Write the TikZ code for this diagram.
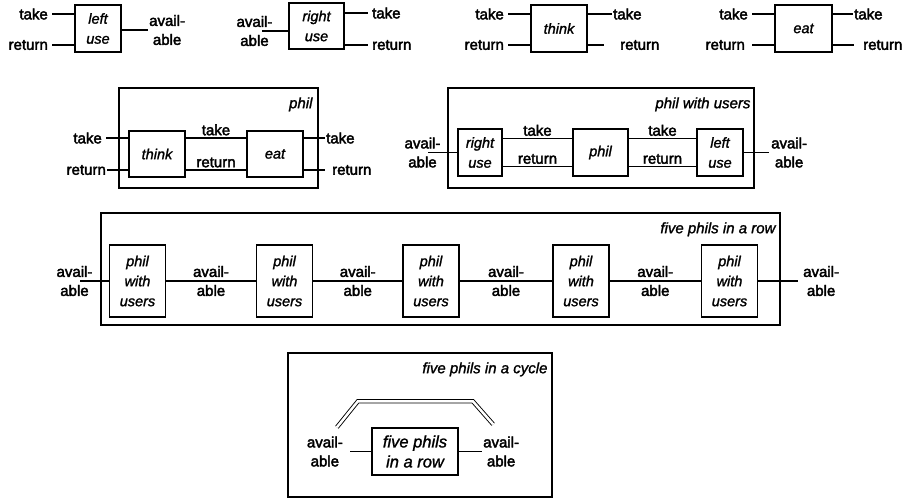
\documentclass[tikz,border=0pt]{standalone}
\usepackage{fontspec}
\setmainfont{Liberation Sans}
\newfontfamily\portfont{Liberation Sans}[FakeBold=2.6]
\newfontfamily\unitfont{Liberation Sans}[FakeBold=1.4]

\begin{document}
\begin{tikzpicture}
        [x=1pt, y=-1pt,
        every node/.style={inner sep=0pt, font=\portfont\fontsize{15}{19}\selectfont},
        port/.style={align=center, inner xsep=4pt},
        unit/.style={draw, line width=1.3pt, align=center, inner sep=0pt,
          font=\unitfont\fontsize{14.5}{20}\selectfont\itshape},
        frame/.style={draw, line width=1.3pt},
        title/.style={anchor=east, font=\unitfont\fontsize{15}{20}\selectfont\itshape},
        wire/.style={line width=1.3pt}]

    \useasboundingbox (0,0) rectangle (904,499);

    % left use
    \node[unit, minimum width=46pt, minimum height=47pt] (lu) at (98,28.5) {left\\use};
    \node[port, anchor=east] (lutake) at (52,14) {take};
    \node[port, anchor=east] (luret) at (52,45) {return};
    \node[port, anchor=west, inner xsep=1pt] (luav) at (148,30) {avail-\\able};
    \draw[wire] (lutake.east) -- (lutake.east -| lu.west);
    \draw[wire] (luret.east) -- (luret.east -| lu.west);
    \draw[wire] (luav.west -| lu.east) -- (luav.west);

    % right use
    \node[unit, minimum width=55pt, minimum height=46pt] (ru) at (316.5,26) {right\\use};
    \node[port] (ruav) at (254.5,31) {avail-\\able};
    \node[port, anchor=west] (rutake) at (368,13) {take};
    \node[port, anchor=west] (ruret) at (368,45) {return};
    \draw[wire] ([xshift=7.5pt]ruav.center) -- (ruav.center -| ru.west);
    \draw[wire] (rutake.west -| ru.east) -- (rutake.west);
    \draw[wire] (ruret.west -| ru.east) -- (ruret.west);

    % think
    \node[unit, minimum width=56pt, minimum height=47pt] (th) at (559,28.5) {think};
    \node[port, anchor=east] (thtake) at (508,14) {take};
    \node[port, anchor=east] (thret) at (508,45) {return};
    \node[port, anchor=west, inner xsep=1pt] (thtake2) at (612,14) {take};
    \node[port, anchor=west, inner xsep=16pt] (thret2) at (604,45) {return};
    \draw[wire] (thtake.east) -- (thtake.east -| th.west);
    \draw[wire] (thret.east) -- (thret.east -| th.west);
    \draw[wire] (thtake2.west -| th.east) -- (thtake2.west);
    \draw[wire] (thret2.west -| th.east) -- (thret2.west);

    % eat
    \node[unit, minimum width=57pt, minimum height=47pt] (et) at (803.5,28.5) {eat};
    \node[port, anchor=east] (ettake) at (752,14) {take};
    \node[port, anchor=east, inner xsep=7pt] (etret) at (752,45) {return};
    \node[port, anchor=west, inner xsep=1pt] (ettake2) at (853,14) {take};
    \node[port, anchor=west, inner xsep=9pt] (etret2) at (854,45) {return};
    \draw[wire] (ettake.east) -- (ettake.east -| et.west);
    \draw[wire] (etret.east) -- (etret.east -| et.west);
    \draw[wire] (ettake2.west -| et.east) -- (ettake2.west);
    \draw[wire] (etret2.west -| et.east) -- (etret2.west);

    % phil
    \node[frame, minimum width=199pt, minimum height=100pt] (phil) at (218.5,138) {};
    \node[title] (philtitle) at ([shift={(-6pt,-17pt)}]phil.north east) {phil};
    \node[unit, minimum width=56pt, minimum height=46pt] (pth) at (157,154) {think};
    \node[unit, minimum width=56pt, minimum height=46pt] (pet) at (275,154) {eat};
    \draw[wire] ([yshift=16pt]pth.east) -- node[above=2pt] (pmtake) {take} ([yshift=16pt]pet.west);
    \draw[wire] ([yshift=-16pt]pth.east) -- node[above=2pt] (pmret) {return} ([yshift=-16pt]pet.west);
    \node[port, anchor=east] (pitake) at (106,138) {take};
    \node[port, anchor=east, inner xsep=1pt] (piret) at (107,170) {return};
    \node[port, anchor=west, inner xsep=1pt] (potake) at (325,138) {take};
    \node[port, anchor=west, inner xsep=7pt] (poret) at (325,170) {return};
    \draw[wire] (pitake.east) -- (pitake.east -| pth.west);
    \draw[wire] (piret.east) -- (piret.east -| pth.west);
    \draw[wire] (potake.west -| pet.east) -- (potake.west);
    \draw[wire] (poret.west -| pet.east) -- (poret.west);

    % phil with users
    \node[frame, minimum width=306pt, minimum height=100pt] (pwu) at (601,138) {};
    \node[title] (pwutitle) at ([shift={(-4pt,-17pt)}]pwu.north east) {phil with users};
    \node[unit, minimum width=44pt, minimum height=47pt] (pru) at (480,152.5) {right\\use};
    \node[unit, minimum width=55pt, minimum height=47pt] (pph) at (600.5,152.5) {phil};
    \node[unit, minimum width=46pt, minimum height=47pt] (plu) at (720,152.5) {left\\use};
    \draw[wire] ([yshift=14pt]pru.east) -- node[above=2pt] (pwtake1) {take} ([yshift=14pt]pph.west);
    \draw[wire] ([yshift=-14pt]pru.east) -- node[above=2pt] (pwret1) {return} ([yshift=-14pt]pph.west);
    \draw[wire] ([yshift=14pt]pph.east) -- node[above=2pt] (pwtake2) {take} ([yshift=14pt]plu.west);
    \draw[wire] ([yshift=-14pt]pph.east) -- node[above=2pt] (pwret2) {return} ([yshift=-14pt]plu.west);
    \node[port] (pwin) at (422.5,152.5) {avail-\\able};
    \node[port, anchor=west, inner xsep=2pt] (pwout) at (769,152.5) {avail-\\able};
    \draw[wire] ([xshift=5.5pt]pwin.center) -- (pru.west);
    \draw[wire] (plu.east) -- (pwout.west);

    % five phils in a row
    \node[frame, minimum width=679pt, minimum height=112pt] (row) at (440.5,269) {};
    \node[title] (rowtitle) at ([shift={(-5pt,-17pt)}]row.north east) {five phils in a row};
    \node[unit, minimum width=56pt, minimum height=72pt] (r1) at (137.5,281) {phil\\with\\users};
    \node[unit, minimum width=56pt, minimum height=72pt] (r2) at (284.5,281) {phil\\with\\users};
    \node[unit, minimum width=56pt, minimum height=72pt] (r3) at (431,281) {phil\\with\\users};
    \node[unit, minimum width=56pt, minimum height=72pt] (r4) at (581,281) {phil\\with\\users};
    \node[unit, minimum width=56pt, minimum height=72pt] (r5) at (729.5,281) {phil\\with\\users};
    \node[port] (rin) at (74.5,281) {avail-\\able};
    \node[port, anchor=west, inner xsep=5pt] (rout) at (798,281) {avail-\\able};
    \draw[wire] ([xshift=5.5pt]rin.center) -- (r1.west);
    \draw[wire] (r1) -- node[port] (ra1) {avail-\\able} (r2);
    \draw[wire] (r2) -- node[port] (ra2) {avail-\\able} (r3);
    \draw[wire] (r3) -- node[port] (ra3) {avail-\\able} (r4);
    \draw[wire] (r4) -- node[port] (ra4) {avail-\\able} (r5);
    \draw[wire] (r5.east) -- (rout.west);

    % five phils in a cycle
    \node[frame, minimum width=264pt, minimum height=144pt] (cyc) at (420,425) {};
    \node[title] (cyctitle) at ([shift={(-5pt,-17pt)}]cyc.north east) {five phils in a cycle};
    \node[unit, minimum width=86pt, minimum height=47pt, font=\unitfont\fontsize{16.5}{20}\selectfont\itshape]
      (cy) at (415,451.5) {five phils\\in a row};
    \node[port, anchor=east, inner xsep=7pt] (cin) at (350,451.5) {avail-\\able};
    \node[port, anchor=west, inner xsep=1pt] (cout) at (482,451.5) {avail-\\able};
    \draw[wire] (cin.east) -- (cy.west);
    \draw[wire] (cy.east) -- (cout.west);
    \draw[double, double distance=2.5pt, line width=0.9pt]
      ([shift={(12pt,9pt)}]cin.north) -- ++(21,-26) -- ++(115,0) -- ([shift={(-8pt,12pt)}]cout.north);
\end{tikzpicture}
\end{document}
